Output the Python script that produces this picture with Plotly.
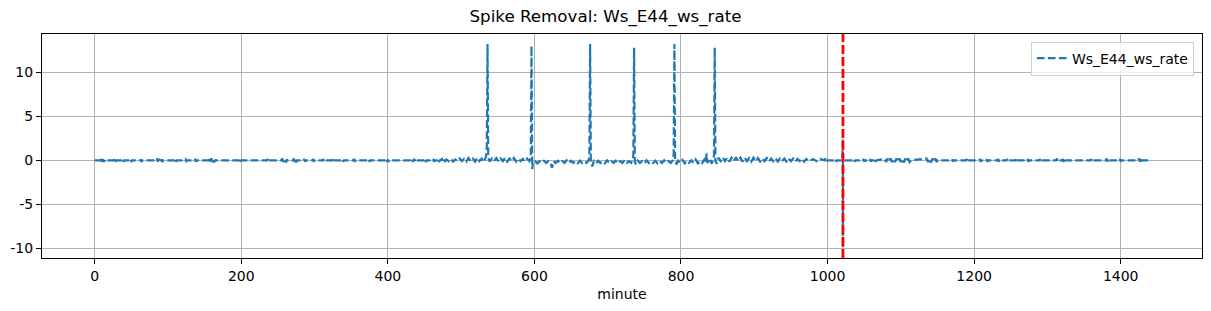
import plotly.graph_objects as go

# ---- data, split into segments of the day ----
min_a = [0, 8, 9, 10, 11, 13, 14, 15, 26, 27, 28, 29, 37, 38, 39, 40, 48, 49, 50, 51,
         62, 63, 64, 65, 84, 85, 86, 88, 90, 91, 92, 93, 109, 110, 111, 112, 123, 124, 125, 126]
val_a = [0, 0, 0.2, -0.2, 0.1, -0.15, 0.1, 0, 0, 0.15, -0.2, 0, 0, 0.15, -0.15, 0, 0, 0.15, -0.2, 0,
         0, 0.1, -0.2, 0, 0, 0.2, -0.15, 0.15, -0.2, 0.1, -0.2, 0, 0, 0.15, -0.15, 0, 0, 0.1, -0.1, 0]

min_b = [136, 137, 138, 139, 155, 156, 157, 159, 161, 162, 163, 164, 197, 198, 199, 200,
         235, 236, 237, 238, 255, 256, 257, 259, 261, 262, 263, 271, 272, 273, 274, 275, 276,
         285, 286, 287, 288, 297, 298, 299, 300]
val_b = [0, 0.15, -0.15, 0, 0, 0.2, -0.15, 0.2, -0.2, 0.1, -0.25, 0, 0, 0.15, -0.15, 0,
         0, 0.15, -0.15, 0, 0, 0.2, -0.15, 0.15, -0.25, 0.1, 0, 0, 0.2, -0.2, 0.1, -0.25, 0,
         0, 0.15, -0.15, 0, 0, 0.15, -0.15, 0]

min_c = [311, 312, 313, 314, 324, 325, 326, 327, 337, 338, 339, 340, 353, 354, 355, 356,
         373, 374, 375, 376, 397, 398, 399, 400, 401, 402, 432, 433, 434, 436, 438, 439,
         450, 451, 452, 453, 461, 462, 463, 464, 468, 469, 470, 471, 474, 475, 476, 478]
val_c = [0, 0.15, -0.15, 0, 0, 0.1, -0.2, 0, 0, 0.15, -0.15, 0, 0, 0.15, -0.15, 0,
         0, 0.15, -0.15, 0, 0, 0.15, -0.2, 0.1, -0.15, 0, 0, 0.2, -0.15, 0.15, -0.2, 0,
         0, 0.2, -0.2, 0, 0, 0.15, -0.15, 0, 0, 0.15, -0.2, 0, 0.15, -0.15, 0.1, -0.1]

min_d = [480, 483, 486, 489, 492, 495, 498, 501, 504, 507, 510, 513, 516, 519, 522, 525, 528, 531,
         533, 534, 535, 536, 537,
         539, 542, 545, 548, 551, 554, 557, 560, 563, 566, 569, 572, 575, 578, 581, 584, 587, 590, 593,
         595, 596, 597, 598]
val_d = [0.1, -0.1, 0.15, -0.15, 0.1, -0.1, 0.2, -0.1, 0.15, -0.15, 0.25, -0.1, 0.2, -0.15, 0.3, -0.1, 0.2, -0.2,
         0.3, 0.4, 1.5, 13.2, 0.3,
         -0.15, 0.2, -0.1, 0.25, -0.15, 0.2, -0.1, 0.3, -0.15, 0.2, -0.1, 0.25, -0.15, 0.2, -0.1, 0.15, -0.15, 0.2, -0.1,
         0.3, 13.0, -1.0, -0.2]

min_e = [601, 604, 607, 610, 613, 616, 619, 622, 624,
         626, 629, 632, 635, 638, 641, 644, 647, 650, 653, 656, 659, 662, 665, 668, 671, 674,
         675, 676, 677, 679,
         681, 684, 687, 690, 693, 696, 699, 702, 705, 708, 711, 714, 717, 720, 723, 726, 729, 732,
         734, 735, 736, 737, 739]
val_e = [-0.1, -0.35, -0.1, -0.3, -0.05, -0.3, -0.1, -0.3, -0.85,
         -0.1, -0.3, -0.05, -0.3, -0.1, -0.3, 0.0, -0.3, -0.05, -0.3, -0.1, -0.35, -0.05, -0.3, -0.1, -0.3, 0.0,
         0.8, 13.2, -0.2, -0.7,
         -0.1, -0.35, -0.05, -0.3, -0.1, -0.35, 0.0, -0.3, -0.1, -0.3, -0.05, -0.35, -0.1, -0.3, 0.0, -0.3, -0.1, -0.3,
         0.0, 0.6, 12.8, -0.2, -0.5]

min_f = [741, 744, 747, 750, 753, 756, 759, 762, 765, 768, 771, 774, 777, 780, 783, 786, 789,
         790, 791, 792, 794,
         796, 799, 802, 805, 808, 811, 814, 817, 820, 823, 826, 829, 832,
         834, 835, 836, 839, 842, 844, 845, 846, 847, 849]
val_f = [-0.05, -0.3, -0.1, -0.35, 0.0, -0.3, -0.1, -0.3, -0.05, -0.35, -0.1, -0.3, 0.0, -0.3, -0.1, -0.3, 0.0,
         0.7, 13.2, -0.2, -0.4,
         -0.05, -0.3, 0.05, -0.35, -0.05, -0.3, 0.0, -0.3, 0.1, -0.35, -0.05, -0.3, 0.1,
         -0.2, 0.8, -0.3, 0.2, -0.4, 0.2, 0.5, 12.8, -0.1, -0.4]

min_g = [851, 854, 857, 860, 863, 866, 869, 872, 875, 878, 881, 884, 887, 890, 893, 896, 899, 902, 905, 908,
         911, 914, 917, 920, 923, 926, 929, 932, 935, 938, 941, 944, 947, 950, 953, 956, 959, 962, 965, 968,
         971,
         975, 980, 985, 990, 996, 997, 998, 1000, 1010, 1011, 1012, 1013, 1020, 1021, 1021, 1021, 1022]
val_g = [0.3, -0.1, 0.35, -0.1, 0.3, -0.15, 0.3, -0.1, 0.35, -0.1, 0.3, -0.15, 0.3, -0.1, 0.25, -0.15, 0.3, -0.1, 0.25, -0.15,
         0.2, -0.1, 0.25, -0.15, 0.2, -0.1, 0.25, -0.15, 0.2, -0.1, 0.2, -0.15, 0.2, -0.1, 0.2, -0.15, 0.15, -0.1, 0.2, -0.15,
         0.15,
         -0.1, 0.15, -0.1, 0.15, 0, 0.2, -0.2, 0, 0, 0.15, -0.15, 0, 0, 2.5, -9.95, 0.1, 0]

min_h = [1035, 1036, 1037, 1038, 1048, 1049, 1050, 1051, 1057, 1058, 1059, 1060, 1064, 1065, 1066, 1067,
         1078, 1080, 1082, 1084, 1086, 1088, 1090, 1092, 1094, 1096, 1098, 1100, 1102, 1104, 1106, 1108,
         1110, 1112, 1114,
         1135, 1137, 1139, 1141, 1143, 1145, 1147, 1149, 1150]
val_h = [0, 0.15, -0.15, 0, 0, 0.15, -0.15, 0, 0, 0.15, -0.15, 0, 0, 0.15, -0.15, 0,
         0.15, -0.2, 0.2, -0.15, 0.2, -0.2, 0.15, -0.2, 0.2, -0.15, 0.2, -0.2, 0.15, -0.25, 0.2, -0.15,
         0.2, -0.2, 0,
         0.2, -0.2, 0.15, -0.25, 0.2, -0.15, 0.2, -0.2, 0]

min_i = [1169, 1170, 1171, 1172, 1189, 1190, 1191, 1192, 1207, 1208, 1209, 1210, 1216, 1217, 1218, 1219,
         1232, 1233, 1234, 1235, 1244, 1245, 1246, 1247, 1257, 1258, 1259, 1260, 1272, 1273, 1274, 1275,
         1289, 1290, 1291, 1292, 1312, 1313, 1314, 1315, 1320, 1321, 1322, 1323, 1324,
         1359, 1360, 1361, 1362, 1380, 1381, 1382, 1383, 1384, 1398, 1399, 1400, 1401,
         1424, 1425, 1426, 1427, 1428, 1429, 1439]
val_i = [0, 0.1, -0.15, 0, 0, 0.15, -0.15, 0, 0, 0.15, -0.15, 0, 0, 0.1, -0.15, 0,
         0, 0.15, -0.15, 0, 0, 0.15, -0.15, 0, 0, 0.15, -0.15, 0, 0, 0.15, -0.15, 0,
         0, 0.15, -0.2, 0, 0, 0.2, -0.15, 0, 0, 0.15, -0.2, 0.15, 0,
         0, 0.15, -0.15, 0, 0, 0.2, -0.15, 0.15, 0, 0, 0.15, -0.15, 0,
         0, 0.2, -0.15, 0.15, -0.2, 0, 0]

x_ticks = [0, 200, 400, 600, 800, 1000, 1200, 1400]
y_ticks = [-10, -5, 0, 5, 10]
y_tick_text = ["-10", "-5", "0", "5", "10"]
event_minute = 1021
series_name = "Ws_E44_ws_rate"

minute, ws_rate = [], []
for m, v in [(min_a, val_a), (min_b, val_b), (min_c, val_c), (min_d, val_d), (min_e, val_e),
             (min_f, val_f), (min_g, val_g), (min_h, val_h), (min_i, val_i)]:
    assert len(m) == len(v), (m[0], len(m), len(v))
    minute += m
    ws_rate += v

fig = go.Figure()
fig.add_trace(go.Scatter(
    x=minute, y=ws_rate, mode="lines", name=series_name,
    line=dict(color="#1f77b4", width=2.2, dash="7.7px,3.3px"),
))
fig.add_trace(go.Scatter(
    x=[event_minute, event_minute], y=[-11.1, 14.35], mode="lines", showlegend=False,
    line=dict(color="red", width=2.8, dash="9px,3px"),
))

font = "DejaVu Sans, Verdana, sans-serif"
fig.update_layout(
    width=1211, height=311,
    margin=dict(l=42, r=9, t=34, b=53),
    paper_bgcolor="white", plot_bgcolor="white",
    font=dict(family=font, size=14, color="black"),
    title=dict(text="Spike Removal: " + series_name, x=0.5, xref="container", xanchor="center",
               y=1 - 16.5 / 311, yref="container", yanchor="middle",
               font=dict(family=font, size=16.7, color="black")),
    showlegend=True,
    legend=dict(x=0.993, xanchor="right", y=0.966, yanchor="top",
                bgcolor="rgba(255,255,255,0.8)", bordercolor="#d0d0d0", borderwidth=1,
                font=dict(family=font, size=14, color="black")),
)
fig.update_xaxes(
    range=[-71.95, 1510.95], tickvals=x_ticks, ticks="outside", ticklen=5, tickcolor="black",
    showline=True, linecolor="black", linewidth=1, mirror=True,
    showgrid=True, gridcolor="#b0b0b0", gridwidth=1, zeroline=False,
    title=dict(text="minute", standoff=6, font=dict(family=font, size=14)),
)
fig.update_yaxes(
    range=[-11.1, 14.35], tickvals=y_ticks, ticktext=y_tick_text, ticks="outside", ticklen=5,
    tickcolor="black", showline=True, linecolor="black", linewidth=1, mirror=True,
    showgrid=True, gridcolor="#b0b0b0", gridwidth=1, zeroline=False,
)
fig.write_html("out.html")
